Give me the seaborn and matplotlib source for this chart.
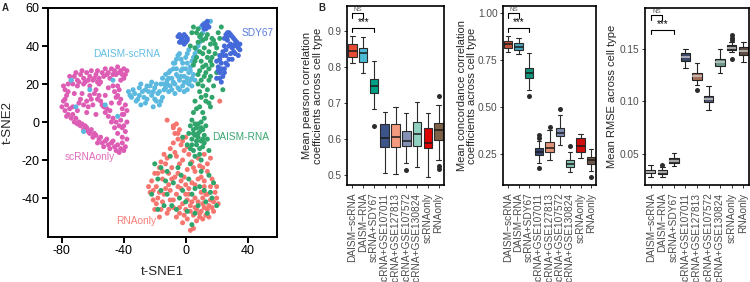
import numpy as np
import pandas as pd
import matplotlib
matplotlib.use("Agg")
import matplotlib.pyplot as plt
import seaborn as sns

# ---------------- data: panel A (t-SNE) ----------------
scrna_only_x = [-76,-74,-72,-70,-68,-66,-64,-62,-60,-58,-56,-54,-52,-50,-48,-46,-44,-42,-40,-39,-70,-66,-62,-56,
                -78,-77,-79,-77,-78,-76,-74,-72,-70,-68,-66,-64,-62,-60,-58,-56,-54,-52,-50,-48,-46,-44,-42,-40,-41,
                -42,-44,-46,-45,-43,-41,-40,-42,-40,-39,-41,
                -58,-56,-55,-53,-52,-50,-48,-46,-44,-62,-64,-66,-68,-72,-60,-58,-64,-70,-73,-50,-52,-48,
                -75,-73,-71,-69,-67,-65,-63,-61,-59,-57,-55,-53,-51,-49,-47,-45,-43,-41,-38,-40,
                -79,-76,-78,-80,-75,-77,-73,-71,-69,-67,-65,-63,-61,-59,-57,-55,-53,-51,-49,-47,-45,-43,-39,-38,
                -43,-47,-44,-42,-39,-38,-41,-38,-41,-57,-59,-57,-54,-51,-49,-47,-45,-43,-61,-63,-67,-69]
scrna_only_y = [20,22,24,22,25,23,26,24,22,25,23,26,28,26,28,27,29,27,28,25,19,20,19,20,
                17,14,11,9,6,4,2,0,-1,-2,-4,-3,-6,-8,-7,-9,-11,-10,-12,-11,-13,-12,-14,-15,-11,
                22,19,16,13,10,7,4,1,-2,-5,-8,
                17,14,11,8,5,3,0,-3,-6,14,11,9,12,15,9,4,5,6,8,18,14,10,
                24,20,26,21,27,21,22,27,23,27,21,24,25,23,25,25,26,25,27,23,
                19,16,12,8,7,3,4,2,0,-1,-2,-5,-4,-6,-11,-8,-13,-9,-14,-10,-15,-16,-13,-9,
                17,19,14,12,9,6,4,0,-3,21,15,12,9,7,6,2,0,-2,12,8,15,10]

daism_scrna_x = [-37,-35,-33,-31,-30,-28,-27,-25,-24,-22,-22,-20,-19,-21,-18,-16,-17,-15,-14,-26,-29,
                 -12,-11,-10,-9,-8,-7,-6,-5,-4,-3,-2,-1,0,1,2,3,4,-13,-7,0,5,-15,
                 -6,-4,-2,0,2,4,6,8,10,-8,3,
                 10,12,14,16,11,
                 -62,-71,-47,-52,-44,-66,-74,
                 -36,-34,-32,-30,-29,-26,-25,-23,-21,-20,-19,-17,-16,-14,-13,-11,-10,-9,-8,-6,-5,-4,-3,-2,-1,
                 1,2,3,4,-11,-7,-5,-3,1,1,5,7,9,-12,-1,6]
daism_scrna_y = [16,13,15,12,18,16,13,19,16,21,14,18,11,8,15,20,9,13,17,10,9,
                 22,26,19,23,28,20,25,18,22,27,19,24,21,17,26,22,19,25,15,28,25,23,
                 33,36,31,34,38,32,36,40,44,31,29,
                 50,52,50,53,47,
                 17,8,22,9,3,-5,22,
                 14,17,11,14,20,17,12,19,16,12,20,16,11,20,18,23,27,17,21,28,24,17,24,28,21,
                 23,20,27,23,16,31,35,33,31,36,34,38,42,20,16,22]

sdy67_x = [-5,-3,-1,1,-4,0,-2,11,13,15,12,14,26,28,30,32,27,29,33,35,31,34,30,25,24,22,26,28,23,21,25,22,24,20,23,27,30,20,25,32,
           -4,-2,0,-3,-1,1,12,14,13,27,29,31,33,34,32,28,26,24,22,21,23,22,25,26,29,31,27,35]
sdy67_y = [45,44,46,44,42,42,43,51,52,50,49,53,46,47,45,43,43,41,40,38,37,35,39,40,37,35,35,33,31,29,28,26,24,23,21,30,33,32,44,41,
           46,45,45,42,41,43,51,51,49,45,46,44,42,39,36,40,38,35,33,27,28,23,26,31,36,40,47,41]

daism_rna_x = [5,7,9,11,14,17,19,21,23,3,6,9,12,15,17,19,10,13,15,17,7,5,9,12,15,18,14,11,8,17,13,10,16,11,9,6,12,5,20,24,
               3,5,7,9,11,6,8,10,4,12,7,9,5,11,13,2,8,14,6,10,15,1,-2,3,
               -20,-18,-16,-12,-8,-5,-2,0,4,8,12,15,17,20,-22,-14,-6,2,10,-10,6,14,-18,18,4,-4,9,-12,
               4,8,10,13,16,18,20,22,8,11,14,16,6,8,11,13,16,10,13,9,15,7,10,4,6,8,10,12,4,7,9,11,5,3,
               -3,6,13,-16,-9,16,-13,1]
daism_rna_y = [50,47,45,43,46,44,41,47,50,40,39,37,39,37,34,36,32,30,28,30,34,30,27,24,22,19,17,19,20,13,11,13,8,5,8,11,2,5,26,17,
               -2,-4,-3,-5,-4,-7,-8,-10,-9,-7,-12,-14,-15,-13,-2,-6,-1,-9,-18,-20,-15,-12,-8,-22,
               -22,-30,-36,-26,-32,-24,-36,-42,-38,-44,-36,-28,-40,-44,-38,-44,-46,-30,-26,-18,-48,-48,-46,-32,-54,-40,-34,-38,
               47,49,46,44,41,43,39,44,42,36,34,32,32,25,29,26,24,22,14,16,10,7,0,1,-1,-6,-3,-11,-12,-10,-17,-9,-6,-14,
               -28,-35,-42,-24,-44,-37,-31,-47]

rna_only_x = [-6,-4,-7,-5,-3,-8,0,-1,2,-6,-10,-14,4,8,12,14,16,11,6,1,-4,-9,-13,-17,-20,-22,-19,-23,-21,-18,
              -15,-11,-7,-3,0,4,8,12,16,19,14,10,6,2,-2,-6,-10,-14,-16,-12,-8,-4,0,3,7,11,15,18,21,13,
              9,5,1,-2,16,20,-10,-5,10,12,3,5,-24,-20,-17,22,-12,-8,
              -5,-2,1,-8,-12,-16,-18,-21,-19,-15,-13,-9,-5,-1,2,6,10,14,17,20,18,14,11,8,4,0,-4,-8,-11,-6,
              -1,3,7,11,15,17,12,9,5,-2,-7,-11,-15,-17,13,6,9,1,-3]
rna_only_y = [-1,-4,-6,-9,-12,-3,-8,-15,-17,-18,-14,-17,-21,-19,-17,-22,-19,-24,-26,-25,-22,-24,-22,-24,-27,-31,-34,-37,-41,-40,
              -30,-33,-29,-31,-33,-32,-30,-31,-34,-37,-38,-37,-40,-38,-43,-38,-41,-38,-46,-48,-45,-48,-46,-44,-46,-43,-44,-47,-43,-49,
              -50,-49,-51,-53,-41,-40,-36,-34,-47,-45,-57,-56,-34,-46,-50,11,1,-2,
              -6,-10,-13,-11,-19,-21,-27,-36,-43,-42,-35,-30,-27,-29,-35,-33,-29,-26,-30,-34,-42,-46,-40,-42,-42,-38,-45,-41,-46,-50,
              -49,-47,-52,-51,-50,-45,-34,-23,-24,-20,-16,-27,-26,-37,-38,-45,-48,-41,-35]

tsne_groups = ["scRNAonly", "DAISM-scRNA", "RNAonly", "DAISM-RNA", "SDY67"]
tsne_colors = ["#DE5DB4", "#5BB9E0", "#F6766F", "#2FA46B", "#4469D8"]

# ---------------- data: panel B (boxplots) ----------------
categories = ["DAISM-scRNA", "DAISM-RNA", "scRNA+SDY67", "scRNA+GSE107011", "scRNA+GSE127813",
              "scRNA+GSE107572", "scRNA+GSE130824", "scRNAonly", "RNAonly"]
tick_labels = ["DAISM\u2212scRNA", "DAISM\u2212RNA", "scRNA+SDY67", "scRNA+GSE107011", "scRNA+GSE127813",
               "scRNA+GSE107572", "scRNA+GSE130824", "scRNAonly", "RNAonly"]

pearson_lo  = [0.812, 0.784, 0.683, 0.505, 0.502, 0.534, 0.523, 0.495, 0.542]
pearson_q1  = [0.828, 0.815, 0.727, 0.579, 0.577, 0.581, 0.581, 0.574, 0.597]
pearson_med = [0.845, 0.840, 0.747, 0.602, 0.605, 0.594, 0.613, 0.590, 0.625]
pearson_q3  = [0.864, 0.852, 0.767, 0.641, 0.641, 0.623, 0.646, 0.631, 0.644]
pearson_hi  = [0.887, 0.884, 0.817, 0.676, 0.688, 0.671, 0.702, 0.671, 0.694]
pearson_out_cat = ["scRNA+SDY67", "scRNA+GSE107572", "RNAonly", "RNAonly", "RNAonly"]
pearson_out_val = [0.637, 0.514, 0.720, 0.517, 0.524]

ccc_lo  = [0.794, 0.780, 0.590, 0.200, 0.218, 0.298, 0.156, 0.227, 0.160]
ccc_q1  = [0.815, 0.803, 0.653, 0.245, 0.262, 0.346, 0.179, 0.262, 0.197]
ccc_med = [0.834, 0.821, 0.682, 0.262, 0.283, 0.363, 0.197, 0.294, 0.218]
ccc_q3  = [0.853, 0.842, 0.709, 0.280, 0.316, 0.387, 0.218, 0.333, 0.236]
ccc_hi  = [0.879, 0.869, 0.786, 0.320, 0.378, 0.457, 0.260, 0.356, 0.275]
ccc_out_cat = ["scRNA+SDY67", "scRNA+GSE107011", "scRNA+GSE107011", "scRNA+GSE107011",
               "scRNA+GSE127813", "scRNA+GSE107572", "scRNA+GSE130824", "RNAonly"]
ccc_out_val = [0.558, 0.351, 0.337, 0.174, 0.395, 0.489, 0.294, 0.126]

rmse_lo  = [0.0282, 0.0282, 0.0386, 0.1316, 0.1157, 0.0919, 0.1274, 0.1469, 0.1373]
rmse_q1  = [0.0316, 0.0307, 0.0411, 0.1386, 0.1205, 0.0993, 0.1340, 0.1490, 0.1443]
rmse_med = [0.0332, 0.0328, 0.0436, 0.1420, 0.1243, 0.1026, 0.1373, 0.1510, 0.1480]
rmse_q3  = [0.0348, 0.0348, 0.0465, 0.1460, 0.1274, 0.1055, 0.1405, 0.1538, 0.1516]
rmse_hi  = [0.0395, 0.0380, 0.0512, 0.1497, 0.1370, 0.1147, 0.1497, 0.1570, 0.1564]
rmse_out_cat = ["DAISM-RNA", "scRNA+GSE127813", "scRNAonly", "scRNAonly", "scRNAonly", "scRNAonly"]
rmse_out_val = [0.0400, 0.1110, 0.1633, 0.1608, 0.1586, 0.1405]

pearson_colors = ["#E64B35", "#4DBBD5", "#00A087", "#3C5488", "#F39B7F", "#8491B4", "#91D1C2", "#DC0000", "#7E6148"]
ccc_colors = ["#C0523D", "#4AA3BA", "#12937C", "#34466F", "#E39478", "#7F8CAF", "#86C2B3", "#D01010", "#6E5646"]
rmse_colors = ["#3a3a3a", "#3a3a3a", "#3d3d3d", "#3b4a6b", "#a8705a", "#4d5570", "#6b9a8a", "#333333", "#5e4e44"]

# ---------------- style ----------------
sns.set_style("ticks")
plt.rcParams['font.family'] = ['Liberation Sans', 'DejaVu Sans']
plt.rcParams['axes.unicode_minus'] = False

fig = plt.figure(figsize=(7.5, 2.82), dpi=100)
W, H = 750.0, 282.0

def add_ax(left, top, right, bottom):
    return fig.add_axes([left / W, (H - bottom) / H, (right - left) / W, (bottom - top) / H])

# ---------------- Panel A ----------------
axA = add_ax(48, 8, 277, 237)
xs = [scrna_only_x, daism_scrna_x, rna_only_x, daism_rna_x, sdy67_x]
ys = [scrna_only_y, daism_scrna_y, rna_only_y, daism_rna_y, sdy67_y]
frames = []
for g, xx, yy in zip(tsne_groups, xs, ys):
    frames.append(pd.DataFrame({"x": xx, "y": yy, "group": g}))
tsne_df = pd.concat(frames, ignore_index=True)
sns.scatterplot(data=tsne_df, x="x", y="y", hue="group", hue_order=tsne_groups,
                palette=dict(zip(tsne_groups, tsne_colors)), s=13, linewidth=0, legend=False, ax=axA)
axA.set_xlim(-89, 59)
axA.set_ylim(-60.5, 60)
axA.set_xticks([-80, -40, 0, 40])
axA.set_yticks([-40, -20, 0, 20, 40, 60])
axA.tick_params(labelsize=9, length=4, width=1.4, color="black", labelcolor="black", pad=2)
for s in axA.spines.values():
    s.set_linewidth(1.4)
    s.set_color("black")
axA.set_xlabel("t-SNE1", fontsize=9.5)
axA.set_ylabel("t-SNE2", fontsize=9.5)
axA.xaxis.set_label_coords(0.5, -0.125)
axA.xaxis.label.set_va("top")
axA.yaxis.set_label_coords(-0.15, 0.5)
lab_fs = 7.3
axA.text(-38, 36, "DAISM-scRNA", color="#63BFE3", fontsize=lab_fs, ha="center", va="center")
axA.text(-62, -18.5, "scRNAonly", color="#E06BBA", fontsize=lab_fs, ha="center", va="center")
axA.text(-32, -52, "RNAonly", color="#F67D76", fontsize=lab_fs, ha="center", va="center")
axA.text(17, -8, "DAISM-RNA", color="#3AA872", fontsize=lab_fs, ha="left", va="center")
axA.text(36, 47, "SDY67", color="#5A7EDD", fontsize=lab_fs, ha="left", va="center")

# ---------------- Panel B ----------------
def box_panel(ax, lo, q1, med, q3, hi, out_cat, out_val, colors, med_color, edge):
    df = pd.DataFrame({
        "method": np.repeat(categories, 5),
        "value": np.column_stack([lo, q1, med, q3, hi]).ravel(),
    })
    sns.boxplot(data=df, x="method", y="value", hue="method", order=categories, hue_order=categories,
                palette=dict(zip(categories, colors)), legend=False, whis=np.inf, width=0.8,
                saturation=1, linecolor=edge, linewidth=0.8, fliersize=0,
                medianprops={"color": med_color, "linewidth": 1.1}, ax=ax)
    od = pd.DataFrame({"method": out_cat, "value": out_val})
    sns.stripplot(data=od, x="method", y="value", order=categories, jitter=False,
                  color="#2b2b2b", size=3.6, linewidth=0, ax=ax)
    ax.set_xlim(-0.5, 8.5)
    ax.set_xticks(range(len(categories)))
    ax.set_xticklabels(tick_labels, rotation=90, fontsize=7.3, color="#4D4D4D")
    ax.set_xlabel("")
    ax.tick_params(axis="x", length=2.5, width=0.7, color="#333333", pad=3)
    ax.tick_params(axis="y", length=2.5, width=0.7, color="#333333", pad=1.5,
                   labelsize=7.3, labelcolor="#4D4D4D")
    for s in ax.spines.values():
        s.set_linewidth(1.2)
        s.set_color("black")

def bracket(ax, x0, x1, yl, yt, label, fs, color="black"):
    tr = ax.get_xaxis_transform()
    ax.plot([x0, x0, x1, x1], [yt, yl, yl, yt], color="black", lw=0.8, transform=tr, clip_on=False)
    ax.text((x0 + x1) / 2, yl + 0.003, label, ha="center", va="bottom", fontsize=fs, color=color,
            transform=tr)

axB1 = add_ax(347, 6, 444, 185)
box_panel(axB1, pearson_lo, pearson_q1, pearson_med, pearson_q3, pearson_hi,
          pearson_out_cat, pearson_out_val, pearson_colors, "#1a1a1a", "#2b2b2b")
axB1.set_ylim(0.472, 0.97)
axB1.set_yticks([0.5, 0.6, 0.7, 0.8, 0.9])
axB1.set_yticklabels(["0.5", "0.6", "0.7", "0.8", "0.9"])
axB1.set_ylabel("Mean pearson correlation\ncoefficients across cell type", fontsize=8, linespacing=1.05)
axB1.yaxis.set_label_coords(-0.25, 0.5)

axB2 = add_ax(503, 6, 596, 185)
box_panel(axB2, ccc_lo, ccc_q1, ccc_med, ccc_q3, ccc_hi,
          ccc_out_cat, ccc_out_val, ccc_colors, "#1a1a1a", "#2b2b2b")
axB2.set_ylim(0.085, 1.037)
axB2.set_yticks([0.25, 0.5, 0.75, 1.0])
axB2.set_yticklabels(["0.25", "0.50", "0.75", "1.00"])
axB2.set_ylabel("Mean concordance correlation\ncoefficients across cell type", fontsize=8, linespacing=1.05)
axB2.yaxis.set_label_coords(-0.28, 0.5)

axB3 = add_ax(645, 8, 749, 185)
box_panel(axB3, rmse_lo, rmse_q1, rmse_med, rmse_q3, rmse_hi,
          rmse_out_cat, rmse_out_val, rmse_colors, "#c8c8c8", "#222222")
axB3.set_ylim(0.0205, 0.189)
axB3.set_yticks([0.05, 0.10, 0.15])
axB3.set_yticklabels(["0.05", "0.10", "0.15"])
axB3.set_ylabel("Mean RMSE across cell type", fontsize=8)
axB3.yaxis.set_label_coords(-0.27, 0.5)

for ax in (axB1, axB2, axB3):
    bracket(ax, 0, 1, 0.962, 0.935, "NS", 4.5, color="#555555")
    bracket(ax, 0, 2, 0.877, 0.852, "***", 7)

fig.text(2 / W, 1 - 3 / H, "A", fontsize=7, fontweight="bold", ha="left", va="top")
fig.text(318 / W, 1 - 3 / H, "B", fontsize=7, fontweight="bold", ha="left", va="top")

fig.savefig("out.png", dpi=100)
